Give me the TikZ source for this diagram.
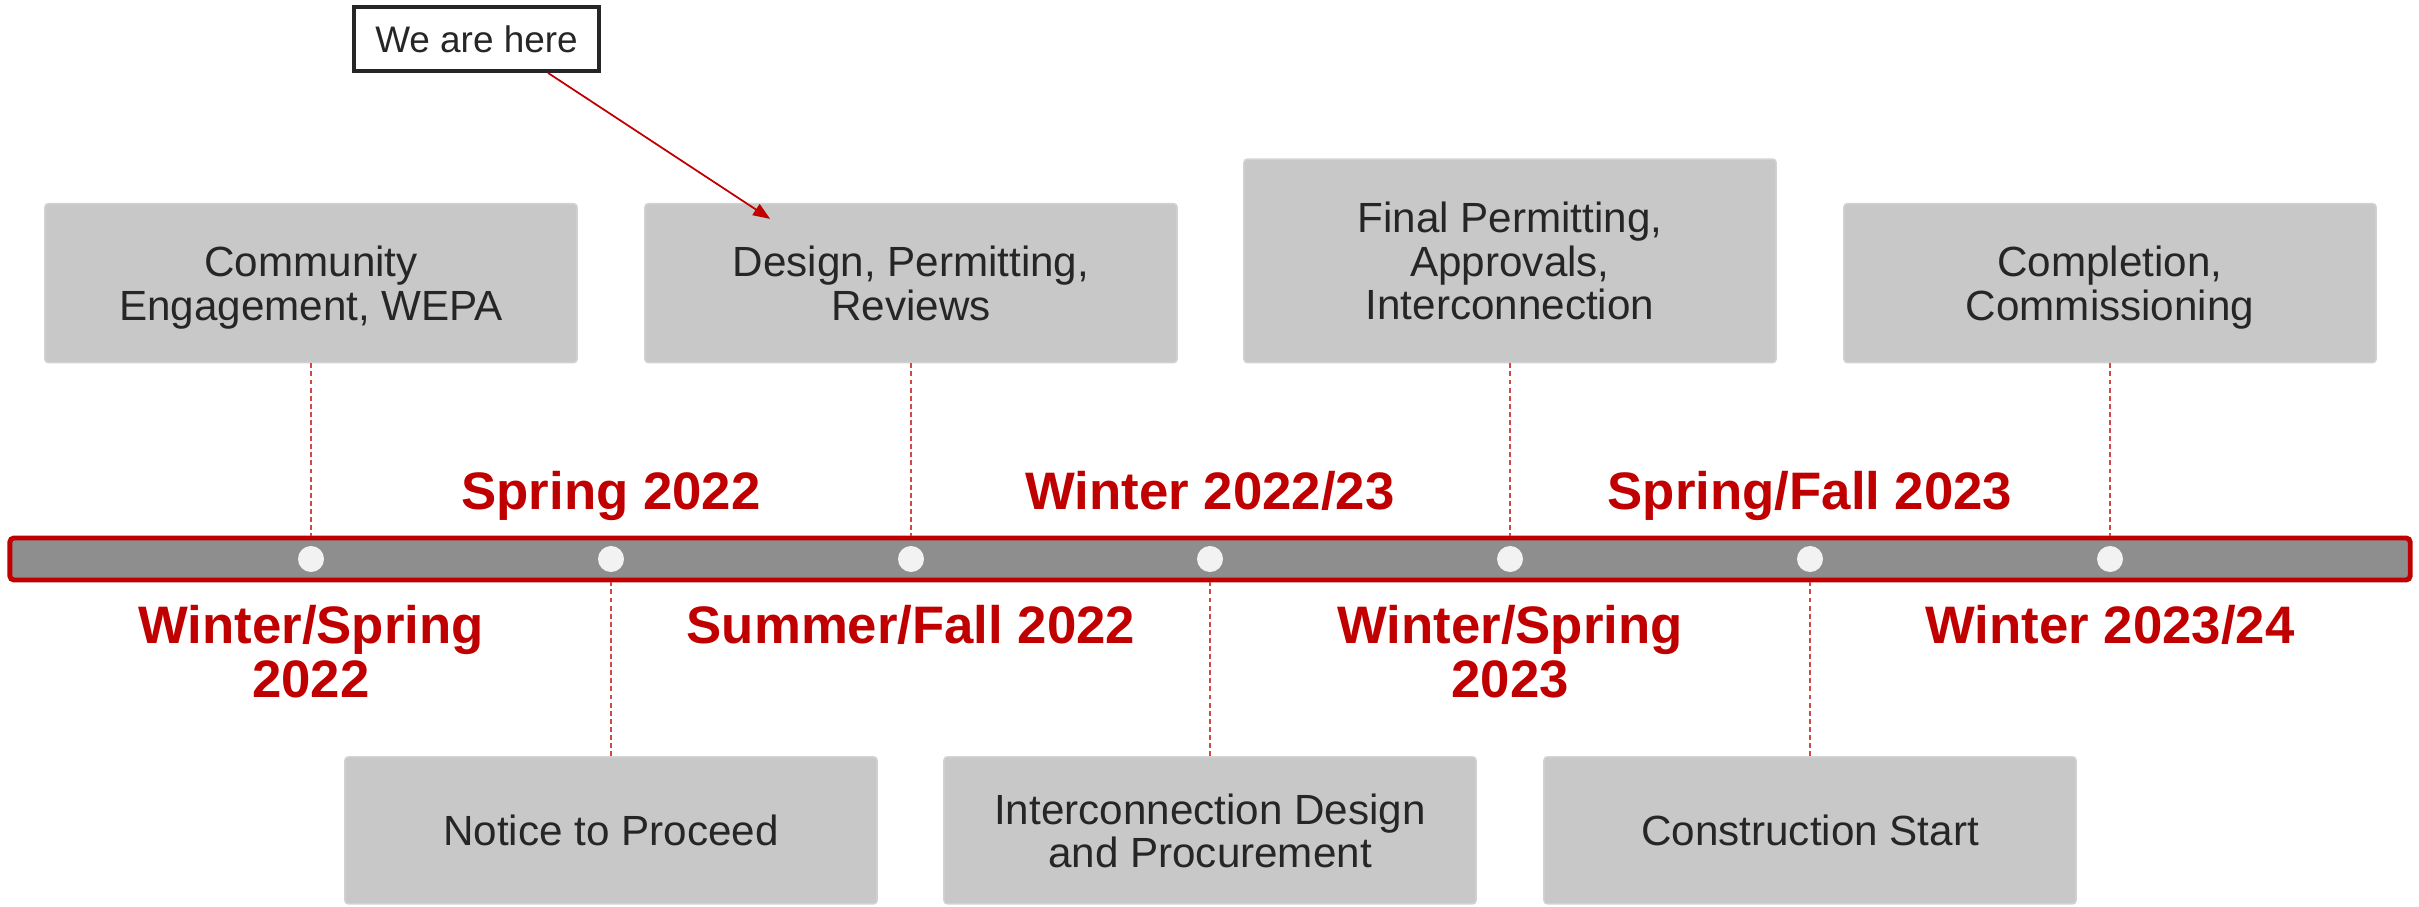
\documentclass[tikz,border=0pt]{standalone}
\usepackage{fontspec}
\setmainfont{Liberation Sans}
\usepackage{tikz}
\usetikzlibrary{positioning, calc, arrows.meta}
\definecolor{brandred}{HTML}{C00000}
\definecolor{boxgray}{HTML}{C8C8C8}
\definecolor{boxedge}{HTML}{D2D2D2}
\definecolor{bargray}{HTML}{8E8E8E}
\definecolor{dotwhite}{HTML}{F2F2F2}
\definecolor{ink}{HTML}{262626}
\definecolor{linkred}{HTML}{D04848}
\tikzset{phase/.style={fill=boxgray, draw=boxedge, line width=0.4pt, rounded corners=1pt,
    minimum width=5.32cm, minimum height=1.59cm, inner sep=0pt, align=center, text=ink,
    text depth=0pt, font=\fontsize{12}{12.3}\selectfont}}
\tikzset{when/.style={text=brandred, inner sep=0pt, align=center,
    font=\bfseries\fontsize{15}{15.4}\selectfont}}
\tikzset{track/.style={fill=bargray, draw=brandred, line width=1.4pt, rounded corners=1.2pt,
    minimum width=23.99cm, minimum height=0.42cm, inner sep=0pt}}
\tikzset{dot/.style={circle, fill=dotwhite, minimum size=0.26cm, inner sep=0pt, outer sep=0pt}}
\tikzset{link/.style={draw=linkred, line width=0.4pt, dash pattern=on 1.4pt off 0.9pt}}
\tikzset{callout/.style={draw=ink, line width=1.1pt, fill=white, minimum width=2.45cm,
    minimum height=0.64cm, inner sep=0pt, text=ink, font=\fontsize{10.5}{12}\selectfont}}
\tikzset{pointer/.style={draw=brandred, line width=0.5pt, -{Triangle[length=0.17cm, width=0.13cm]}}}

\begin{document}
\begin{tikzpicture}[x=0.01cm, y=-0.01cm]
      \useasboundingbox (0,0) rectangle (2419,907);

      % timeline bar and milestones
      \node[track] (bar) at (1210,559) {};
      \foreach \i/\x in {1/311, 2/611, 3/911, 4/1210, 5/1510, 6/1810, 7/2110}
        \node[dot] (d\i) at (\x,559) {};

      % phases above the bar
      \node[phase] (eng) [above=1.825cm of d1] {Community\\Engagement, WEPA}
      edge[link] (d1 |- bar.north);
      \node[phase] (design) [above=1.825cm of d3] {Design, Permitting,\\Reviews}
      edge[link] (d3 |- bar.north);
      \node[phase, minimum height=2.035cm] (final) [above=1.825cm of d5]
        {Final Permitting,\\Approvals,\\Interconnection}
      edge[link] (d5 |- bar.north);
      \node[phase] (done) [above=1.825cm of d7] {Completion,\\Commissioning}
      edge[link] (d7 |- bar.north);

      % phases below the bar
      \node[phase, minimum height=1.47cm] (ntp) [below=1.84cm of d2] {Notice to Proceed}
      edge[link] (d2 |- bar.south);
      \node[phase, minimum height=1.47cm] (icd) [below=1.84cm of d4]
        {Interconnection Design\\and Procurement}
      edge[link] (d4 |- bar.south);
      \node[phase, minimum height=1.47cm] (build) [below=1.84cm of d6] {Construction Start}
      edge[link] (d6 |- bar.south);

      % dates
      \node[when, anchor=base] (t2) at ($(d2)+(0,-49)$) {Spring 2022};
      \node[when, anchor=base] (t4) at ($(d4)+(0,-49)$) {Winter 2022/23};
      \node[when, anchor=base] (t6) at ($(d6)+(0,-49)$) {Spring/Fall 2023};
      \node[when, anchor=north] (t1) at ($(d1)+(0,45.5)$) {Winter/Spring\\2022};
      \node[when, anchor=north] (t3) at ($(d3)+(0,45.5)$) {Summer/Fall 2022};
      \node[when, anchor=north] (t5) at ($(d5)+(0,45.5)$) {Winter/Spring\\2023};
      \node[when, anchor=north] (t7) at ($(d7)+(0,45.5)$) {Winter 2023/24};

      % marker
      \node[callout] (here) at (476.5,39) {We are here};
      \coordinate (tip) at ($(design.north west)+(126,16)$);
      \draw[pointer] ([xshift=0.715cm]here.south) -- (tip);

\end{tikzpicture}
\end{document}
